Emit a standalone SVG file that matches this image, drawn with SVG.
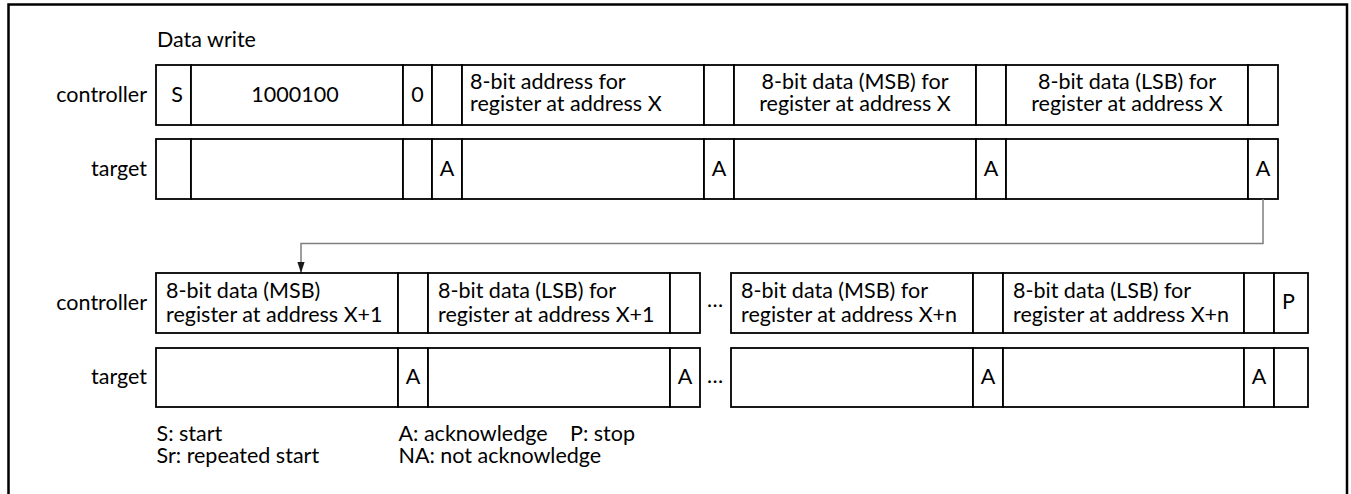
<svg xmlns="http://www.w3.org/2000/svg" width="1351" height="494" viewBox="0 0 1351 494">
<style>
.bg{fill:#fff}
.frame{fill:none;stroke:#000;stroke-width:2.5}
.cell{fill:#fff;stroke:#000;stroke-width:1.8}
.t{font-family:Lato,"Liberation Sans",sans-serif;font-size:21.5px;fill:#000}
.m{text-anchor:middle}
.e{text-anchor:end}
.conn{fill:none;stroke:#7f7f7f;stroke-width:1.5}
</style>
<defs>
<marker id="arr" markerUnits="userSpaceOnUse" markerWidth="12" markerHeight="8" refX="11" refY="3.6" orient="auto">
<path d="M0,0 L11,3.6 L0,7.2 z" fill="#1a1a1a"/>
</marker>
</defs>
<rect class="bg" x="0" y="0" width="1351" height="494"/>
<rect class="frame" x="8.5" y="4.5" width="1338.5" height="500"/>

<g id="title"><text class="t" x="157" y="46.5">Data write</text></g>
<g id="labels">
<text class="t e" x="147" y="101.5">controller</text>
<text class="t e" x="147" y="176">target</text>
<text class="t e" x="147" y="310">controller</text>
<text class="t e" x="147" y="383.5">target</text>
</g>

<g id="row1-controller">
<g id="r1c-start"><rect class="cell" x="156" y="65" width="35" height="60"/><text class="t m" x="177" y="101.5">S</text></g>
<g id="r1c-addr"><rect class="cell" x="191" y="65" width="212" height="60"/><text class="t m" x="295" y="101.5">1000100</text></g>
<g id="r1c-rw"><rect class="cell" x="403" y="65" width="29" height="60"/><text class="t m" x="417.5" y="101.5">0</text></g>
<g id="r1c-ack1"><rect class="cell" x="432" y="65" width="30" height="60"/></g>
<g id="r1c-reg"><rect class="cell" x="462" y="65" width="242" height="60"/><text class="t" x="470" y="88.5">8-bit address for</text><text class="t" x="470" y="110.5">register at address X</text></g>
<g id="r1c-ack2"><rect class="cell" x="704" y="65" width="30" height="60"/></g>
<g id="r1c-msb"><rect class="cell" x="734" y="65" width="242" height="60"/><text class="t m" x="855" y="88.5">8-bit data (MSB) for</text><text class="t m" x="855" y="110.5">register at address X</text></g>
<g id="r1c-ack3"><rect class="cell" x="976" y="65" width="30" height="60"/></g>
<g id="r1c-lsb"><rect class="cell" x="1006" y="65" width="242" height="60"/><text class="t m" x="1127" y="88.5">8-bit data (LSB) for</text><text class="t m" x="1127" y="110.5">register at address X</text></g>
<g id="r1c-ack4"><rect class="cell" x="1248" y="65" width="30" height="60"/></g>
</g>

<g id="row1-target">
<g id="r1t-start"><rect class="cell" x="156" y="139" width="35" height="60"/></g>
<g id="r1t-addr"><rect class="cell" x="191" y="139" width="212" height="60"/></g>
<g id="r1t-rw"><rect class="cell" x="403" y="139" width="29" height="60"/></g>
<g id="r1t-ack1"><rect class="cell" x="432" y="139" width="30" height="60"/><text class="t m" x="447" y="176">A</text></g>
<g id="r1t-reg"><rect class="cell" x="462" y="139" width="242" height="60"/></g>
<g id="r1t-ack2"><rect class="cell" x="704" y="139" width="30" height="60"/><text class="t m" x="719" y="176">A</text></g>
<g id="r1t-msb"><rect class="cell" x="734" y="139" width="242" height="60"/></g>
<g id="r1t-ack3"><rect class="cell" x="976" y="139" width="30" height="60"/><text class="t m" x="991" y="176">A</text></g>
<g id="r1t-lsb"><rect class="cell" x="1006" y="139" width="242" height="60"/></g>
<g id="r1t-ack4"><rect class="cell" x="1248" y="139" width="30" height="60"/><text class="t m" x="1263" y="176">A</text></g>
</g>

<g id="connectors">
<path class="conn" d="M1263,199 V243.5 H301 V273" marker-end="url(#arr)"/>
</g>

<g id="row2-controller">
<g id="r2c-msb1"><rect class="cell" x="156" y="273" width="242" height="60"/><text class="t" x="166" y="298.3">8-bit data (MSB)</text><text class="t" x="166" y="321.7">register at address X+1</text></g>
<g id="r2c-ack1"><rect class="cell" x="398" y="273" width="30" height="60"/></g>
<g id="r2c-lsb1"><rect class="cell" x="428" y="273" width="242" height="60"/><text class="t" x="438" y="298.3">8-bit data (LSB) for</text><text class="t" x="438" y="321.7">register at address X+1</text></g>
<g id="r2c-ack2"><rect class="cell" x="670" y="273" width="30" height="60"/></g>
<g id="r2c-dots"><text class="t m" x="715" y="307">…</text></g>
<g id="r2c-msbn"><rect class="cell" x="731" y="273" width="242" height="60"/><text class="t" x="741" y="298.3">8-bit data (MSB) for</text><text class="t" x="741" y="321.7">register at address X+n</text></g>
<g id="r2c-ack3"><rect class="cell" x="973" y="273" width="30" height="60"/></g>
<g id="r2c-lsbn"><rect class="cell" x="1003" y="273" width="241" height="60"/><text class="t" x="1013" y="298.3">8-bit data (LSB) for</text><text class="t" x="1013" y="321.7">register at address X+n</text></g>
<g id="r2c-ack4"><rect class="cell" x="1244" y="273" width="30" height="60"/></g>
<g id="r2c-stop"><rect class="cell" x="1274" y="273" width="34" height="60"/><text class="t m" x="1288.5" y="308.5">P</text></g>
</g>

<g id="row2-target">
<g id="r2t-msb1"><rect class="cell" x="156" y="348" width="242" height="59"/></g>
<g id="r2t-ack1"><rect class="cell" x="398" y="348" width="30" height="59"/><text class="t m" x="413" y="384">A</text></g>
<g id="r2t-lsb1"><rect class="cell" x="428" y="348" width="242" height="59"/></g>
<g id="r2t-ack2"><rect class="cell" x="670" y="348" width="30" height="59"/><text class="t m" x="685" y="384">A</text></g>
<g id="r2t-dots"><text class="t m" x="715" y="383">…</text></g>
<g id="r2t-msbn"><rect class="cell" x="731" y="348" width="242" height="59"/></g>
<g id="r2t-ack3"><rect class="cell" x="973" y="348" width="30" height="59"/><text class="t m" x="988" y="384">A</text></g>
<g id="r2t-lsbn"><rect class="cell" x="1003" y="348" width="241" height="59"/></g>
<g id="r2t-ack4"><rect class="cell" x="1244" y="348" width="30" height="59"/><text class="t m" x="1259" y="384">A</text></g>
<g id="r2t-stop"><rect class="cell" x="1274" y="348" width="34" height="59"/></g>
</g>

<g id="legend">
<text class="t" x="156.5" y="440.7">S: start</text>
<text class="t" x="156.5" y="463.3">Sr: repeated start</text>
<text class="t" x="398.5" y="440.7">A: acknowledge</text>
<text class="t" x="398.5" y="463.3">NA: not acknowledge</text>
<text class="t" x="570" y="440.7">P: stop</text>
</g>
</svg>
